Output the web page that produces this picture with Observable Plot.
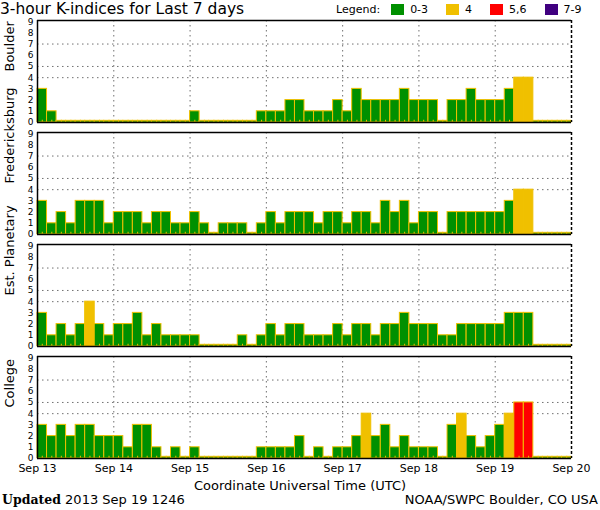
<!DOCTYPE html>
<html>
<head>
<meta charset="utf-8">
<script src="https://cdn.jsdelivr.net/npm/d3@7"></script>
<script src="https://cdn.jsdelivr.net/npm/@observablehq/plot@0.6"></script>
<style>
  html, body { margin: 0; padding: 0; background: #fff; }
  #wrap { position: relative; width: 600px; height: 510px; overflow: hidden; font-family: "DejaVu Sans", sans-serif; color: #000; }
  #wrap svg { position: absolute; left: 0; top: 0; }
  .abs { position: absolute; white-space: nowrap; line-height: 1; }
  #title { left: 0px; top: 0px; font-size: 15.5px; line-height: 18px; }
  #legend { left: 336px; top: 4px; font-size: 11px; display: flex; align-items: center; }
  #legend .sw { display: inline-block; width: 13px; height: 11px; margin-right: 6px; }
  #legend .lab { margin-right: 18px; }
  #xlab { left: 0; width: 600px; text-align: center; top: 479px; font-size: 13px; }
  #upd { left: 2px; top: 493px; font-size: 13px; }
  #upd b { font-family: "DejaVu Serif", serif; font-weight: bold; font-size: 12.5px; }
  #src { right: 2px; top: 493px; font-size: 13px; }
</style>
</head>
<body>
<div id="wrap">
  <div id="title" class="abs">3-hour K-indices for Last 7 days</div>
  <div id="legend" class="abs"></div>
  <div id="xlab" class="abs">Coordinate Universal Time (UTC)</div>
  <div id="upd" class="abs"><b>Updated</b> 2013 Sep 19 1246</div>
  <div id="src" class="abs">NOAA/SWPC Boulder, CO USA</div>
</div>
<script>
// ---- data ----
const stations = ["Boulder", "Fredericksburg", "Est. Planetary", "College"];
const boulder = [3,1,0,0,0,0,0,0, 0,0,0,0,0,0,0,0, 1,0,0,0,0,0,0,1, 1,1,2,2,1,1,1,2, 1,3,2,2,2,2,3,2, 2,2,0,2,2,3,2,2, 2,3,4,4,0,0,0,0];
const fredericksburg = [3,1,2,1,3,3,3,1, 2,2,2,1,2,2,1,1, 2,1,0,1,1,1,0,1, 2,1,2,2,2,1,2,2, 1,2,2,1,3,2,3,1, 2,2,0,2,2,2,2,2, 2,3,4,4,0,0,0,0];
const planetary = [3,1,2,1,2,4,2,1, 2,2,3,1,2,1,1,1, 1,0,0,0,0,1,0,1, 2,1,2,2,1,1,1,2, 1,2,2,1,2,2,3,2, 2,2,1,1,2,2,2,2, 2,3,3,3,0,0,0,0];
const college = [3,2,3,2,3,3,2,2, 2,1,3,3,1,0,1,0, 1,0,0,0,0,0,0,1, 1,1,1,2,0,1,0,1, 1,2,4,2,3,1,2,1, 1,1,0,3,4,2,1,2, 3,4,5,5,0,0,0,0];
const dayLabels = ["Sep 13", "Sep 14", "Sep 15", "Sep 16", "Sep 17", "Sep 18", "Sep 19", "Sep 20"];
const yTicks = [0,1,2,3,4,5,6,7,8,9];
const gridLevels = [4, 5, 7];
const legendLabels = ["0-3", "4", "5,6", "7-9"];
const legendColors = ["#009000", "#f0c000", "#ff0000", "#400080"];

// ---- build table ----
const series = [boulder, fredericksburg, planetary, college];
const H3 = 3 * 3600 * 1000;
const start = Date.UTC(2013, 8, 13);
const days = dayLabels.map((_, i) => new Date(start + i * 8 * H3));
const cat = k => k <= 3 ? "0-3" : k === 4 ? "4" : k <= 6 ? "5,6" : "7-9";
const rows = [];
stations.forEach((s, si) => {
  series[si].forEach((k, i) => {
    rows.push({station: s, t0: new Date(start + i * H3), t1: new Date(start + (i + 1) * H3), tm: new Date(start + (i + 0.5) * H3), k, shown: k === 0 ? 0.15 : k, c: cat(k)});
  });
});

// legend
const leg = document.getElementById("legend");
leg.innerHTML = '<span class="lab" style="margin-right:11px">Legend:</span>' +
  legendLabels.map((l, i) => `<span class="sw" style="background:${legendColors[i]}"></span><span class="lab">${l}</span>`).join("");

const chart = Plot.plot({
  width: 600,
  height: 510,
  marginTop: 19,
  marginBottom: 52,
  marginLeft: 37,
  marginRight: 29,
  style: {fontFamily: "DejaVu Sans, sans-serif", fontSize: "11px", background: "transparent", color: "#000"},
  x: {type: "utc", domain: [days[0], days[days.length - 1]], ticks: days, tickFormat: (d) => dayLabels[days.findIndex(t => +t === +d)], tickSize: 0, tickPadding: 6, label: null},
  y: {domain: [0, 9.1], axis: null, label: null},
  fy: {domain: stations, paddingInner: 0.092, paddingOuter: 0, axis: null, label: null},
  color: {domain: legendLabels, range: legendColors},
  marks: [
    Plot.ruleY(gridLevels, {stroke: "#707070", strokeDasharray: "1.5,3.5"}),
    Plot.ruleX(days.slice(1, -1), {stroke: "#707070", strokeDasharray: "1.5,3.5"}),
    Plot.rectY(rows, {fy: "station", x1: "t0", x2: "t1", y1: 0, y2: "shown", fill: "c", stroke: "#f0c000", strokeWidth: 1}),
    Plot.ruleX(rows, {fy: "station", x: "tm", y1: 0, y2: 0.2, stroke: "#f0c000", strokeWidth: 1}),
    Plot.ruleY([0, 9.1], {stroke: "#000", strokeWidth: 1.5}),
    Plot.ruleX([days[0]], {stroke: "#000", strokeWidth: 1.5}),
    Plot.ruleX([days[days.length - 1]], {stroke: "#000", strokeWidth: 1.5, strokeDasharray: "3,2"}),
    Plot.axisY(yTicks, {tickSize: 0, tickPadding: 4, fontSize: 9, label: null, tickFormat: d => String(d)}),
    Plot.text(stations, {fy: d => d, text: d => d, frameAnchor: "left", rotate: -90, dx: -28, fontSize: 13})
  ]
});
document.getElementById("wrap").prepend(chart);
</script>
</body>
</html>
